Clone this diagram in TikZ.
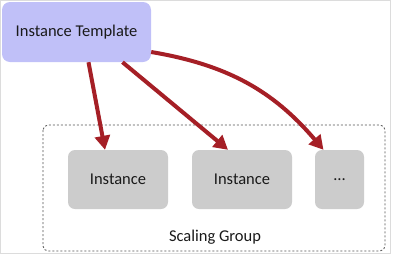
\documentclass[tikz,border=0pt]{standalone}
\usepackage{fontspec}
\setmainfont{Carlito}
\usetikzlibrary{arrows.meta}
\definecolor{ink}{HTML}{1A1A1A}
\definecolor{lav}{HTML}{C0C0F8}
\definecolor{box}{HTML}{CCCCCC}
\definecolor{wine}{HTML}{A51F26}
\definecolor{frame}{HTML}{DCDCDC}

\begin{document}
\begin{tikzpicture}[x=1pt,y=-1pt,text=ink,font=\fontsize{16.5}{19}\selectfont,
  inst/.style={fill=box,rounded corners=7pt,minimum width=100pt,minimum height=59pt},
  link/.style={wine,line width=4pt,-{Triangle[length=14pt,width=15pt]}}]
  \draw[frame,fill=white] (0.5,0.5) rectangle (390.5,253.5);
  \useasboundingbox (0,0) rectangle (393,255);
  \draw[ink!75,line width=0.8pt,dash pattern=on 2pt off 2pt,rounded corners=5pt] (43,125) rectangle (385,251);
  \node (group) at (215,237) {Scaling Group};
  \node[fill=lav,rounded corners=8pt,minimum width=149pt,minimum height=60pt]
    (tmpl) at (76.5,32) {Instance Template};
  \node[inst] (inst1) at (118,179.5) {Instance};
  \node[inst] (inst2) at (242,179.5) {Instance};
  \node[inst,minimum width=49pt] (more) at (339.5,179.5) {\dots};
  \draw[link] ([xshift=12pt]tmpl.south) -- ([xshift=-13pt]inst1.north);
  \draw[link] ([xshift=46pt]tmpl.south) -- ([xshift=-14pt]inst2.north);
  \draw[link] ([yshift=-20pt]tmpl.east) to[bend left=20] ([xshift=-16pt]more.north);
\end{tikzpicture}
\end{document}
